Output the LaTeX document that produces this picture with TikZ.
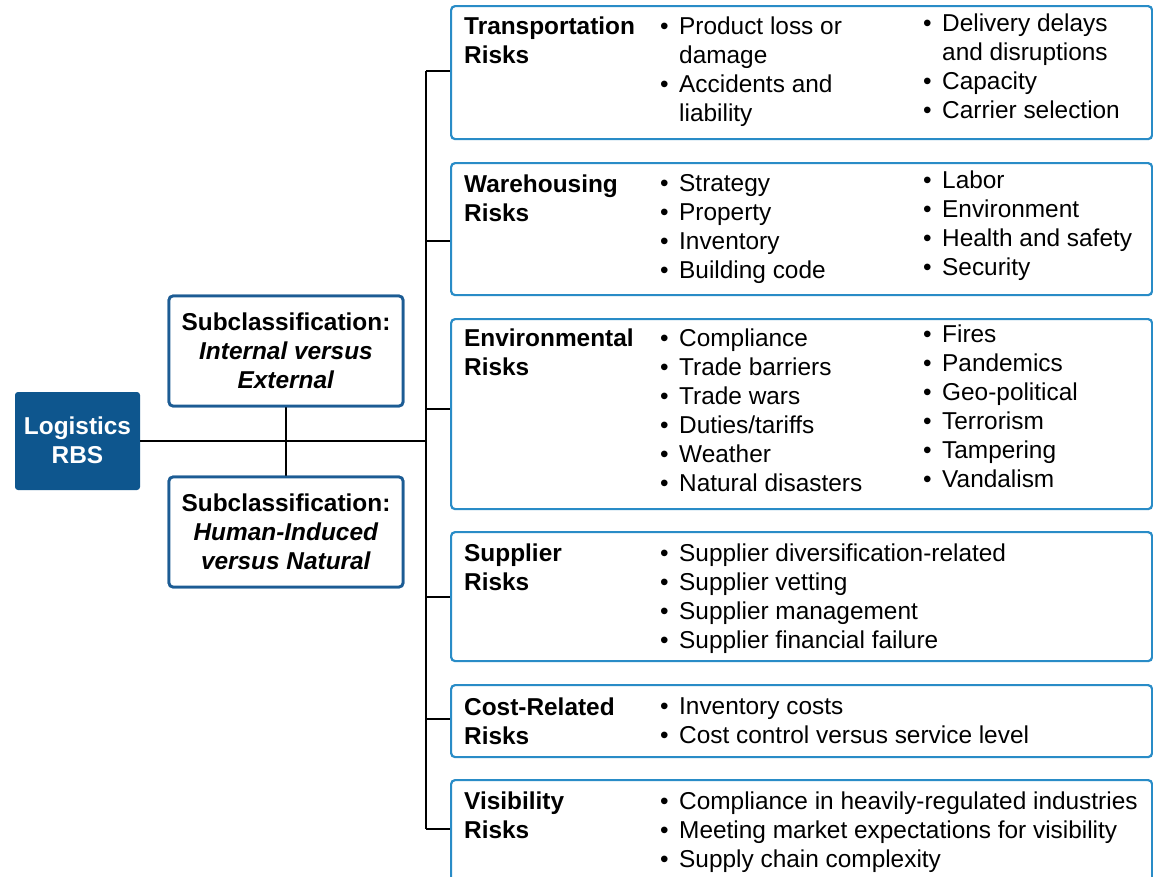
\documentclass[tikz,border=0pt]{standalone}
\usepackage{fontspec}
\setmainfont{Liberation Sans}
\definecolor{rbsblue}{RGB}{14,86,142}
\definecolor{subblue}{RGB}{28,92,148}
\definecolor{riskblue}{RGB}{41,140,199}
% bullet item with hanging indent, and its continuation line
\newcommand{\bitem}[1]{\makebox[19pt][l]{\textbullet}#1}
\newcommand{\bcont}[1]{\hspace*{19pt}#1}
\begin{document}
\begin{tikzpicture}[x=1pt,y=-1pt,
  riskbox/.style={draw=riskblue,line width=2.2pt,rounded corners=4pt,fill=white,
    anchor=north west,inner sep=0pt,minimum width=701pt},
  subbox/.style={draw=subblue,line width=2.8pt,rounded corners=4pt,fill=white,
    inner sep=0pt,minimum width=234pt,minimum height=110pt},
  rootbox/.style={fill=rbsblue,rounded corners=3pt,inner sep=0pt,
    minimum width=125pt,minimum height=98pt},
  link/.style={line width=2.4pt,black},
  % text blocks are placed by the baseline of their first line
  txt/.style={inner sep=0pt,align=left,anchor=north west,yshift=17.8pt,
    execute at begin node=\strut,font=\fontsize{24.4}{29}\selectfont},
  ttl/.style={txt,font=\fontsize{24.4}{29}\selectfont\bfseries},
  ctxt/.style={inner sep=0pt,align=center,anchor=north,yshift=17.8pt,
    execute at begin node=\strut,font=\fontsize{24.4}{29}\selectfont\bfseries}]
\clip (0,0) rectangle (1153,876);
\fill[white] (0,0) rectangle (1153,876);

% junction points on the trunk
\coordinate (hub) at (426,441);
\coordinate (j1) at (426,71);
\coordinate (j2) at (426,241);
\coordinate (j3) at (426,409);
\coordinate (j4) at (426,597);
\coordinate (j5) at (426,719);
\coordinate (j6) at (426,829);

% risk category boxes
\node[riskbox,minimum height=133pt] (b1) at (450,5) {};
\node[riskbox,minimum height=132pt] (b2) at (450,162) {};
\node[riskbox,minimum height=190pt] (b3) at (450,318) {};
\node[riskbox,minimum height=129pt] (b4) at (450,531) {};
\node[riskbox,minimum height=72pt] (b5) at (450,684) {};
\node[riskbox,minimum height=130pt] (b6) at (450,779) {};

% root and subclassification boxes
\node[rootbox] (rbs) at (77.5,441) {};
\node[subbox] (s1) at (286,351) {};
\node[subbox] (s2) at (286,532) {};

% connectors
\draw[link] (j1) -- (j6);
\draw[link] (rbs.east) -- (hub);
\draw[link] (s1.south) -- (s2.north);
\foreach \i in {1,...,6} \draw[link] (j\i) -- (j\i -| b\i.west);

% redraw boxes over the connector ends
\node[subbox] at (s1) {};
\node[subbox] at (s2) {};

% root and subclassification texts
\node[ctxt,text=white] (rbst) at (77.5,434) {Logistics\\RBS};
\node[ctxt] (s1t) at (286,330) {Subclassification:\\\textit{Internal versus}\\\textit{External}};
\node[ctxt] (s2t) at (286,511) {Subclassification:\\\textit{Human-Induced}\\\textit{versus Natural}};

% Transportation
\node[ttl] (t1) at (464,34) {Transportation\\Risks};
\node[txt] (c1a) at (660,34) {\bitem{Product loss or}\\\bcont{damage}\\\bitem{Accidents and}\\\bcont{liability}};
\node[txt] (c1b) at (923,31) {\bitem{Delivery delays}\\\bcont{and disruptions}\\\bitem{Capacity}\\\bitem{Carrier selection}};

% Warehousing
\node[ttl] (t2) at (464,192) {Warehousing\\Risks};
\node[txt] (c2a) at (660,192) {\bitem{Strategy}\\\bitem{Property}\\\bitem{Inventory}\\\bitem{Building code}};
\node[txt] (c2b) at (923,188) {\bitem{Labor}\\\bitem{Environment}\\\bitem{Health and safety}\\\bitem{Security}};

% Environmental
\node[ttl] (t3) at (464,346) {Environmental\\Risks};
\node[txt] (c3a) at (660,346) {\bitem{Compliance}\\\bitem{Trade barriers}\\\bitem{Trade wars}\\\bitem{Duties/tariffs}\\\bitem{Weather}\\\bitem{Natural disasters}};
\node[txt] (c3b) at (923,342) {\bitem{Fires}\\\bitem{Pandemics}\\\bitem{Geo-political}\\\bitem{Terrorism}\\\bitem{Tampering}\\\bitem{Vandalism}};

% Supplier
\node[ttl] (t4) at (464,561) {Supplier\\Risks};
\node[txt] (c4a) at (660,561) {\bitem{Supplier diversification-related}\\\bitem{Supplier vetting}\\\bitem{Supplier management}\\\bitem{Supplier financial failure}};

% Cost-related
\node[ttl] (t5) at (464,715) {Cost-Related\\Risks};
\node[txt] (c5a) at (660,715) {\bitem{Inventory costs}\\\bitem{Cost control versus service level}};

% Visibility
\node[ttl] (t6) at (464,809) {Visibility\\Risks};
\node[txt] (c6a) at (660,809) {\bitem{Compliance in heavily-regulated industries}\\\bitem{Meeting market expectations for visibility}\\\bitem{Supply chain complexity}};
\end{tikzpicture}
\end{document}
